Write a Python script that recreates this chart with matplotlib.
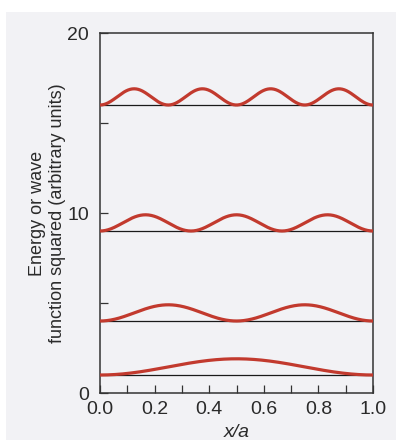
import numpy as np
import matplotlib
matplotlib.use("Agg")
import matplotlib.pyplot as plt
from matplotlib.patches import Rectangle

# Data: quantum numbers, energy levels (baselines), amplitude of |psi|^2
levels_n = [1, 2, 3, 4]
energies = [1, 4, 9, 16]
amplitude = 0.9
x = np.linspace(0, 1, 400)

xticks_major = [0.0, 0.2, 0.4, 0.6, 0.8, 1.0]
xticks_minor = [0.1, 0.3, 0.5, 0.7, 0.9]
yticks_major = [0, 10, 20]
yticks_minor = [5, 15]

plt.rcParams['font.family'] = ['Liberation Sans', 'DejaVu Sans']

fig = plt.figure(figsize=(3.96, 4.4), dpi=100)
fig.patch.set_facecolor('white')
# page background
fig.patches.append(Rectangle((6/396, 0), 1, 1 - 12/440, transform=fig.transFigure,
                             facecolor='#f2f2f5', edgecolor='none', zorder=-10))

ax = fig.add_axes([100/396, 47/440, 273/396, 360/440])
ax.set_facecolor('none')
txtc = '#2a2a2a'

for n, E in zip(levels_n, energies):
    ax.plot([0, 1], [E, E], color='#1a1a1a', lw=0.9, zorder=2)
    ax.plot(x, E + amplitude * np.sin(n * np.pi * x) ** 2, color='#c23a2e', lw=2.3,
            solid_capstyle='butt', zorder=3)

ax.set_xlim(0, 1)
ax.set_ylim(0, 20)
ax.set_xticks(xticks_major)
ax.set_xticks(xticks_minor, minor=True)
ax.set_xticklabels([f"{v:.1f}" for v in xticks_major])
ax.set_yticks(yticks_major)
ax.set_yticks(yticks_minor, minor=True)
ax.tick_params(which='both', direction='in', length=5.5, width=0.9, color='#333333',
               labelsize=14, labelcolor=txtc)
ax.tick_params(axis='x', which='both', pad=6)
ax.tick_params(axis='y', which='both', pad=8)
for s in ax.spines.values():
    s.set_color('#333333')
    s.set_linewidth(1.1)

ax.set_ylabel("Energy or wave\nfunction squared (arbitrary units)", fontsize=13,
              color=txtc, labelpad=1, linespacing=1.2)
ax.set_xlabel("x/a", fontsize=14, color=txtc, style='italic', labelpad=4)

fig.savefig("out.png", dpi=100)
